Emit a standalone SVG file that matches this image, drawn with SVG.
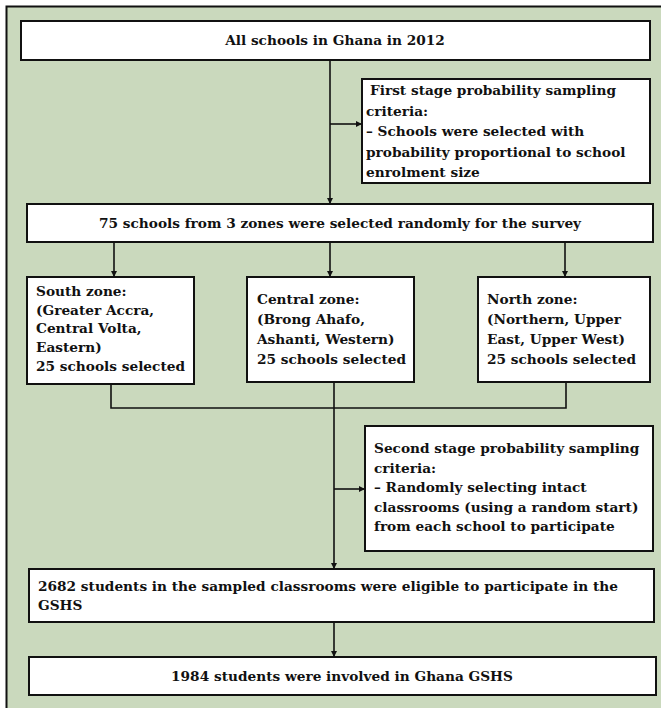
<svg xmlns="http://www.w3.org/2000/svg" width="661" height="708" viewBox="0 0 661 708">
<style>
.box{fill:#ffffff;stroke:#111111;stroke-width:2}
.t{font-family:"DejaVu Serif","Liberation Serif",serif;font-weight:bold;font-size:13.7px;fill:#111111}
.c{text-anchor:middle}
.ln{stroke:#111111;stroke-width:1.6;fill:none}
</style>
<defs>
<marker id="ah" viewBox="0 0 10 10" refX="10" refY="5" markerWidth="6" markerHeight="6" markerUnits="userSpaceOnUse" orient="auto">
<path d="M0,0 L10,5 L0,10 z" fill="#111111"/>
</marker>
</defs>
<rect x="0" y="0" width="661" height="708" fill="#ffffff"/>
<rect id="frame" x="6.5" y="6.5" width="670" height="720" fill="#cad9bd" stroke="#111111" stroke-width="2"/>
<g id="connectors">
<line class="ln" x1="330" y1="60" x2="330" y2="204" marker-end="url(#ah)"/>
<line class="ln" x1="330" y1="124" x2="362" y2="124" marker-end="url(#ah)"/>
<line class="ln" x1="114" y1="242" x2="114" y2="277" marker-end="url(#ah)"/>
<line class="ln" x1="330" y1="242" x2="330" y2="277" marker-end="url(#ah)"/>
<line class="ln" x1="565" y1="242" x2="565" y2="277" marker-end="url(#ah)"/>
<polyline class="ln" points="111,384 111,408 566,408 566,382"/>
<line class="ln" x1="334" y1="382" x2="334" y2="569" marker-end="url(#ah)"/>
<line class="ln" x1="334" y1="489" x2="365" y2="489" marker-end="url(#ah)"/>
<line class="ln" x1="334" y1="622" x2="334" y2="657" marker-end="url(#ah)"/>
</g>
<g id="n1">
<rect class="box" x="21" y="21" width="629" height="39"/>
<text class="t c" x="335" y="45">All schools in Ghana in 2012</text>
</g>
<g id="n2">
<rect class="box" x="362" y="79" width="288" height="104"/>
<text class="t" x="366" y="95">
<tspan x="366" dx="4">First stage probability sampling</tspan>
<tspan x="366" dy="20.5">criteria:</tspan>
<tspan x="366" dy="20.5">– Schools were selected with</tspan>
<tspan x="366" dy="20.5">probability proportional to school</tspan>
<tspan x="366" dy="20.5">enrolment size</tspan>
</text>
</g>
<g id="n3">
<rect class="box" x="27" y="204" width="626" height="38"/>
<text class="t c" x="340" y="228">75 schools from 3 zones were selected randomly for the survey</text>
</g>
<g id="n4">
<rect class="box" x="27" y="277" width="167" height="107"/>
<text class="t" x="36" y="296">
<tspan x="36">South zone:</tspan>
<tspan x="36" dy="18.7">(Greater Accra,</tspan>
<tspan x="36" dy="18.7">Central Volta,</tspan>
<tspan x="36" dy="18.7">Eastern)</tspan>
<tspan x="36" dy="18.7">25 schools selected</tspan>
</text>
</g>
<g id="n5">
<rect class="box" x="247" y="277" width="167" height="105"/>
<text class="t" x="257" y="304">
<tspan x="257">Central zone:</tspan>
<tspan x="257" dy="20">(Brong Ahafo,</tspan>
<tspan x="257" dy="20">Ashanti, Western)</tspan>
<tspan x="257" dy="20">25 schools selected</tspan>
</text>
</g>
<g id="n6">
<rect class="box" x="478" y="277" width="172" height="105"/>
<text class="t" x="487" y="304">
<tspan x="487">North zone:</tspan>
<tspan x="487" dy="20">(Northern, Upper</tspan>
<tspan x="487" dy="20">East, Upper West)</tspan>
<tspan x="487" dy="20">25 schools selected</tspan>
</text>
</g>
<g id="n7">
<rect class="box" x="365" y="426" width="288" height="125"/>
<text class="t" x="374" y="453">
<tspan x="374">Second stage probability sampling</tspan>
<tspan x="374" dy="19.5">criteria:</tspan>
<tspan x="374" dy="19.5">– Randomly selecting intact</tspan>
<tspan x="374" dy="19.5">classrooms (using a random start)</tspan>
<tspan x="374" dy="19.5">from each school to participate</tspan>
</text>
</g>
<g id="n8">
<rect class="box" x="29" y="569" width="625" height="53"/>
<text class="t" x="38" y="591">
<tspan x="38">2682 students in the sampled classrooms were eligible to participate in the</tspan>
<tspan x="38" dy="19">GSHS</tspan>
</text>
</g>
<g id="n9">
<rect class="box" x="29" y="657" width="627" height="38"/>
<text class="t c" x="342" y="681">1984 students were involved in Ghana GSHS</text>
</g>
</svg>
